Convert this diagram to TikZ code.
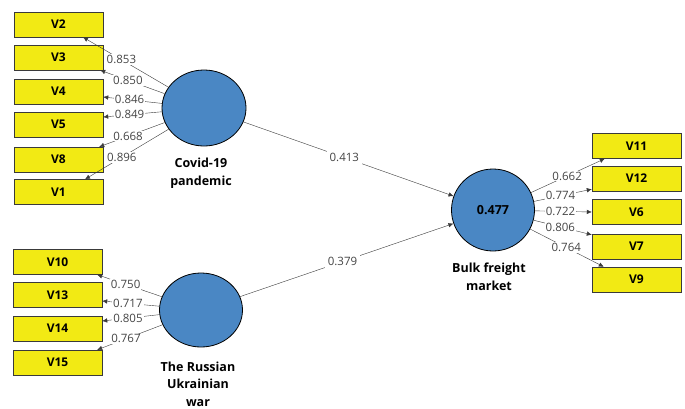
\documentclass[tikz,border=0pt]{standalone}
\usepackage{fontspec}
\setmainfont{Open Sans}
\usepackage{tikz}
\usetikzlibrary{shapes.geometric, arrows.meta}
\definecolor{plsyellow}{HTML}{F2EA14}
\definecolor{plsblue}{HTML}{4A87C4}
\definecolor{plsline}{HTML}{3A3A3A}
\definecolor{plstext}{HTML}{454545}

\begin{document}
\begin{tikzpicture}[x=1pt, y=-1pt, >={Latex[length=5pt, width=4.5pt]},
  indbox/.style={draw=plsline, fill=plsyellow, minimum width=89pt, minimum height=25pt,
    inner sep=0pt, font=\bfseries\fontsize{12}{14}\selectfont},
  latent/.style={ellipse, draw=black, thick, fill=plsblue, inner sep=0pt},
  latname/.style={align=center, font=\bfseries\fontsize{12.5}{17.5}\selectfont},
  loadlbl/.style={fill=white, inner sep=1pt, text=plstext, font=\fontsize{11.5}{13}\selectfont},
  link/.style={plsline, ->}]
  \useasboundingbox (0,0) rectangle (685,408);
  % latent variables
  \node[latent, minimum width=84pt, minimum height=76pt] (cov) at (204,108) {};
  \node[latent, minimum width=83pt, minimum height=74pt] (rus) at (201,310) {};
  \node[latent, minimum width=83pt, minimum height=82pt, font=\bfseries\fontsize{12.5}{14}\selectfont] (bulk) at (493,210) {0.477};
  \node[latname] (covname) at (201,173) {Covid-19\\pandemic};
  \node[latname] (rusname) at (198,384) {The Russian\\Ukrainian\\war};
  \node[latname] (bulkname) at (489,277) {Bulk freight\\market};
  % indicators
  \node[indbox] (v2) at (58.5,24.5) {V2};
  \node[indbox] (v3) at (58.5,57.5) {V3};
  \node[indbox] (v4) at (58.5,91.5) {V4};
  \node[indbox] (v5) at (58.5,124.5) {V5};
  \node[indbox] (v8) at (58.5,159.5) {V8};
  \node[indbox] (v1) at (58.5,192) {V1};
  \node[indbox] (v10) at (57.5,262) {V10};
  \node[indbox] (v13) at (57.5,295) {V13};
  \node[indbox] (v14) at (57.5,328.5) {V14};
  \node[indbox] (v15) at (57.5,362.5) {V15};
  \node[indbox] (v11) at (636.5,146) {V11};
  \node[indbox] (v12) at (636.5,178.5) {V12};
  \node[indbox] (v6) at (636.5,212) {V6};
  \node[indbox] (v7) at (636.5,246.5) {V7};
  \node[indbox] (v9) at (636.5,279.5) {V9};
  % outer loadings
  \draw[link] (cov) -- ([xshift=24.5pt]v2.south) node[loadlbl, pos=0.55] {0.853};
  \draw[link] (cov) -- ([xshift=-3pt]v3.south east) node[loadlbl, pos=0.57] {0.850};
  \draw[link] (cov) -- ([yshift=-5.5pt]v4.east) node[loadlbl, pos=0.55] {0.846};
  \draw[link] (cov) -- ([yshift=7.5pt]v5.east) node[loadlbl, pos=0.55] {0.849};
  \draw[link] (cov) -- ([xshift=-4pt]v8.north east) node[loadlbl, pos=0.56] {0.668};
  \draw[link] (cov) -- ([xshift=26.5pt]v1.north) node[loadlbl, pos=0.56] {0.896};
  \draw[link] (rus) -- ([xshift=-5pt]v10.south east) node[loadlbl, pos=0.56] {0.750};
  \draw[link] (rus) -- ([yshift=-6pt]v13.east) node[loadlbl, pos=0.55] {0.717};
  \draw[link] (rus) -- ([yshift=7.5pt]v14.east) node[loadlbl, pos=0.55] {0.805};
  \draw[link] (rus) -- ([xshift=-5pt]v15.north east) node[loadlbl, pos=0.56] {0.767};
  \draw[link] (bulk) -- ([xshift=13pt]v11.south west) node[loadlbl, pos=0.49] {0.662};
  \draw[link] (bulk) -- ([yshift=2pt]v12.south west) node[loadlbl, pos=0.46] {0.774};
  \draw[link] (bulk) -- (v6.west) node[loadlbl, pos=0.45] {0.722};
  \draw[link] (bulk) -- ([yshift=-1pt]v7.north west) node[loadlbl, pos=0.46] {0.806};
  \draw[link] (bulk) -- ([xshift=12pt]v9.north west) node[loadlbl, pos=0.49] {0.764};
  % path coefficients
  \draw[link] (cov) -- (bulk) node[loadlbl, pos=0.48, inner sep=3pt] {0.413};
  \draw[link] (rus) -- (bulk) node[loadlbl, pos=0.48, inner sep=3pt] {0.379};
\end{tikzpicture}
\end{document}
